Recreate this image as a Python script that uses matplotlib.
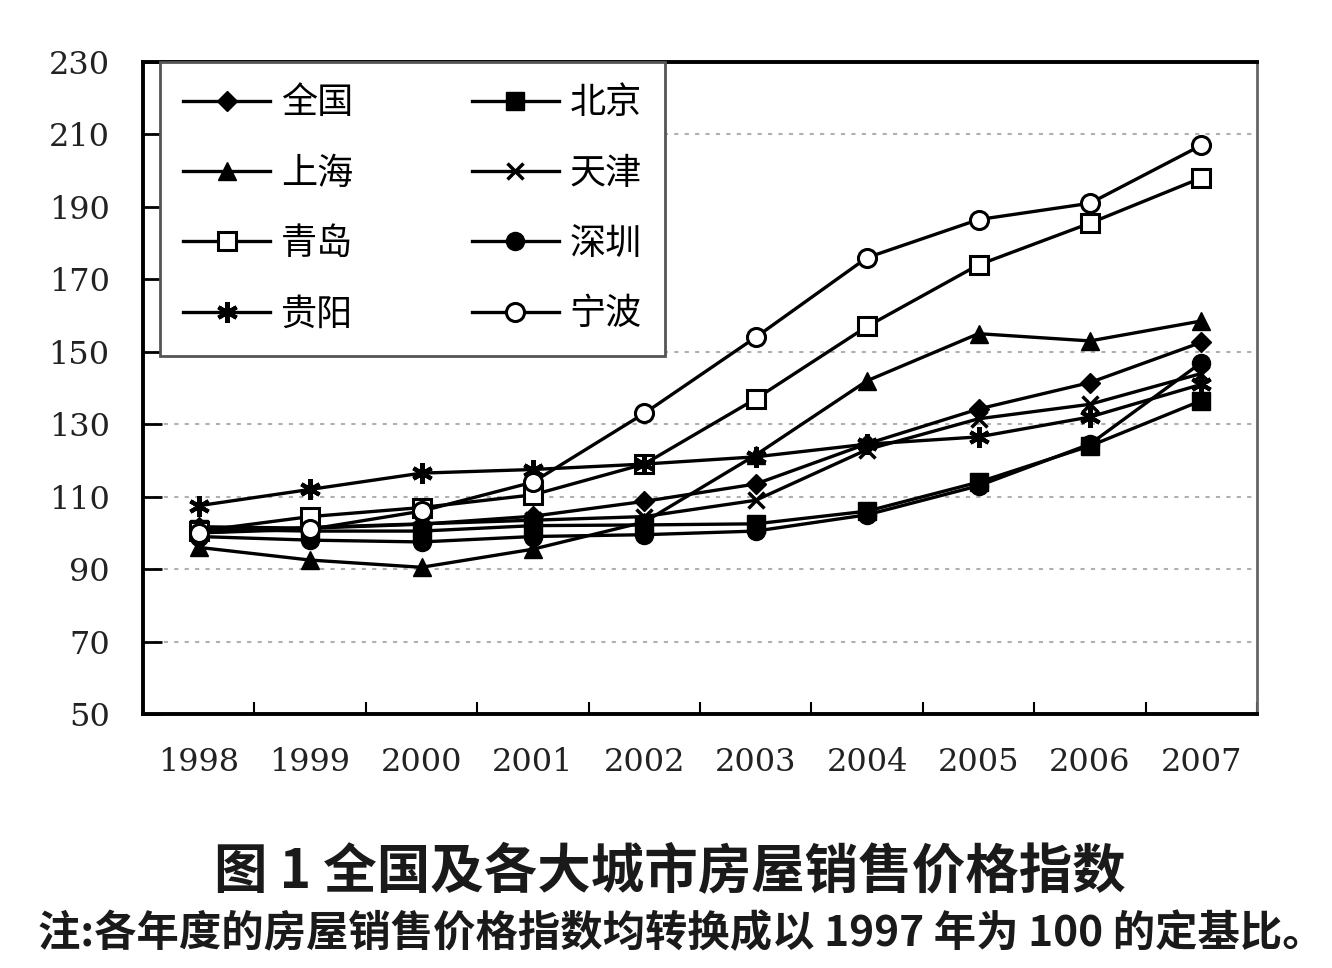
import matplotlib
matplotlib.use("Agg")
import matplotlib.pyplot as plt
from matplotlib.font_manager import FontProperties
import numpy as np

plt.rcParams['font.family'] = ['Noto Sans CJK SC', 'DejaVu Sans']

years = ['1998', '1999', '2000', '2001', '2002', '2003', '2004', '2005', '2006', '2007']

national  = [101.7, 101.3, 102.4, 104.6, 108.7, 113.5, 124.6, 134.2, 141.5, 152.6]
beijing   = [101.0, 100.5, 100.5, 102.0, 102.2, 102.5, 106.0, 114.0, 124.0, 136.5]
shanghai  = [96.0, 92.5, 90.5, 95.5, 103.0, 121.5, 142.0, 155.0, 153.0, 158.5]
tianjin   = [100.0, 101.5, 102.5, 103.5, 104.5, 109.0, 123.0, 131.5, 135.5, 144.0]
qingdao   = [100.5, 104.5, 107.0, 110.5, 119.0, 137.0, 157.0, 174.0, 185.5, 198.0]
shenzhen  = [99.0, 98.0, 97.5, 99.0, 99.5, 100.5, 105.0, 113.0, 124.5, 147.0]
guiyang   = [107.5, 112.0, 116.5, 117.5, 119.0, 121.0, 124.5, 126.5, 132.0, 141.0]
ningbo    = [100.0, 101.0, 106.0, 114.0, 133.0, 154.0, 176.0, 186.5, 191.0, 207.0]

series_names = ['全国', '北京', '上海', '天津', '青岛', '深圳', '贵阳', '宁波']
y_ticks = [50, 70, 90, 110, 130, 150, 170, 190, 210, 230]
grid_levels = [70, 90, 110, 130, 150, 210]

title = '图 1 全国及各大城市房屋销售价格指数'
note = '注:各年度的房屋销售价格指数均转换成以 1997 年为 100 的定基比。'

fig = plt.figure(figsize=(13.32, 9.68), dpi=100)
ax = fig.add_axes([143/1332, 1-714/968, 1114/1332, 652/968])

x = np.arange(len(years))
styles = {
    '全国': dict(marker='D', ms=10, mfc='black', mec='black'),
    '北京': dict(marker='s', ms=13, mfc='black', mec='black'),
    '上海': dict(marker='^', ms=13, mfc='black', mec='black'),
    '天津': dict(marker='x', ms=12, mew=2.5, mec='black'),
    '青岛': dict(marker='s', ms=13, mfc='white', mec='black', mew=2.2),
    '深圳': dict(marker='o', ms=13, mfc='black', mec='black'),
    '贵阳': dict(marker=(6, 2, 0), ms=15, mew=3, mec='black'),
    '宁波': dict(marker='o', ms=13, mfc='white', mec='black', mew=2.2),
}
data = {'全国': national, '北京': beijing, '上海': shanghai, '天津': tianjin,
        '青岛': qingdao, '深圳': shenzhen, '贵阳': guiyang, '宁波': ningbo}

handles = {}
for name in series_names:
    h, = ax.plot(x, data[name], color='black', lw=2.4, label=name, zorder=3,
                 **styles[name])
    handles[name] = h

for g in grid_levels:
    ax.axhline(g, color='#b0b0b0', lw=1.5, ls=(0, (2, 3)), zorder=1)

ax.set_xlim(-0.5, len(years) - 0.5)
ax.set_ylim(50, 230)
ax.set_yticks(y_ticks)
ax.set_xticks(x)
ax.set_xticklabels(years)
ax.set_xticks(np.arange(len(years) + 1) - 0.5, minor=True)
ax.tick_params(axis='x', which='major', length=0, pad=24)
ax.tick_params(axis='x', which='minor', direction='in', length=9, width=1.5)
ax.tick_params(axis='y', direction='in', length=14, width=2, pad=24)

num_font = FontProperties(family='DejaVu Serif', size=23)
for lab in ax.get_xticklabels() + ax.get_yticklabels():
    lab.set_fontproperties(num_font)
    lab.set_color('#222222')

for side in ['left', 'bottom', 'top']:
    ax.spines[side].set_linewidth(2.8)
    ax.spines[side].set_color('black')
ax.spines['right'].set_linewidth(2)
ax.spines['right'].set_color('#666666')

order = ['全国', '上海', '青岛', '贵阳', '北京', '天津', '深圳', '宁波']
leg = ax.legend([handles[n] for n in order], order, ncol=2,
                loc='upper left', bbox_to_anchor=(0.015, 1.0),
                borderaxespad=0, frameon=True, fancybox=False,
                edgecolor='#555555', framealpha=1,
                prop=FontProperties(family=['Noto Sans CJK SC'], size=26),
                handlelength=2.4, handletextpad=0.3, columnspacing=3.3,
                labelspacing=0.95, borderpad=0.65)
leg.get_frame().set_linewidth(2)
leg.set_zorder(5)

fig.text(670/1332, 1-873/968, title, ha='center', va='center',
         fontsize=38.5, fontweight='bold', color='#1a1a1a')
fig.text(38/1332, 1-934/968, note, ha='left', va='center',
         fontsize=30.5, fontweight='bold', color='#1a1a1a')

fig.savefig('out.png', dpi=100, facecolor='white')
